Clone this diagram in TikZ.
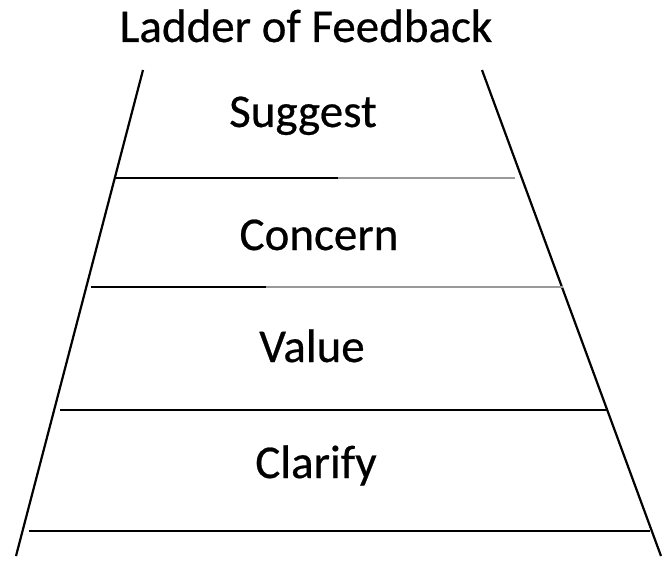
\documentclass[tikz,border=0pt]{standalone}
\usepackage{fontspec}
\setmainfont{Carlito}[FakeBold=0.5]
\usepackage{tikz}
\usetikzlibrary{positioning}

\begin{document}
\begin{tikzpicture}[x=1pt, y=-1pt]
\useasboundingbox (0,0) rectangle (664,567);
\tikzset{rail/.style={color=black, line width=2.2},
  rung/.style={color=black, line width=2.2},
  fadedrung/.style={color=gray!80, line width=2.2},
  step label/.style={anchor=base, font=\fontsize{47}{56}\selectfont}}
% Title
\node[step label] (title) at (306,42) {Ladder of Feedback};
% Rail 1
\draw[rail] (143,70) -- (16,556);
% Rail 2
\draw[rail] (482,70) -- (661,556);
% Rung 1
\draw[rung] (115,178) -- (338,178);
\draw[fadedrung] (338,178) -- (515,178);
% Rung 2
\draw[rung] (91,287) -- (266,287);
\draw[fadedrung] (266,287) -- (563,287);
% Rung 3
\draw[rung] (60,410) -- (606,410);
% Rung 4
\draw[rung] (29,531) -- (650,531);
% Labels between the rungs
\node[step label] (suggest) at (303,127) {Suggest};
\node[step label] (concern) at (319,250) {Concern};
\node[step label] (value) at (312,362) {Value};
\node[step label] (clarify) at (316,478) {Clarify};
\end{tikzpicture}
\end{document}
